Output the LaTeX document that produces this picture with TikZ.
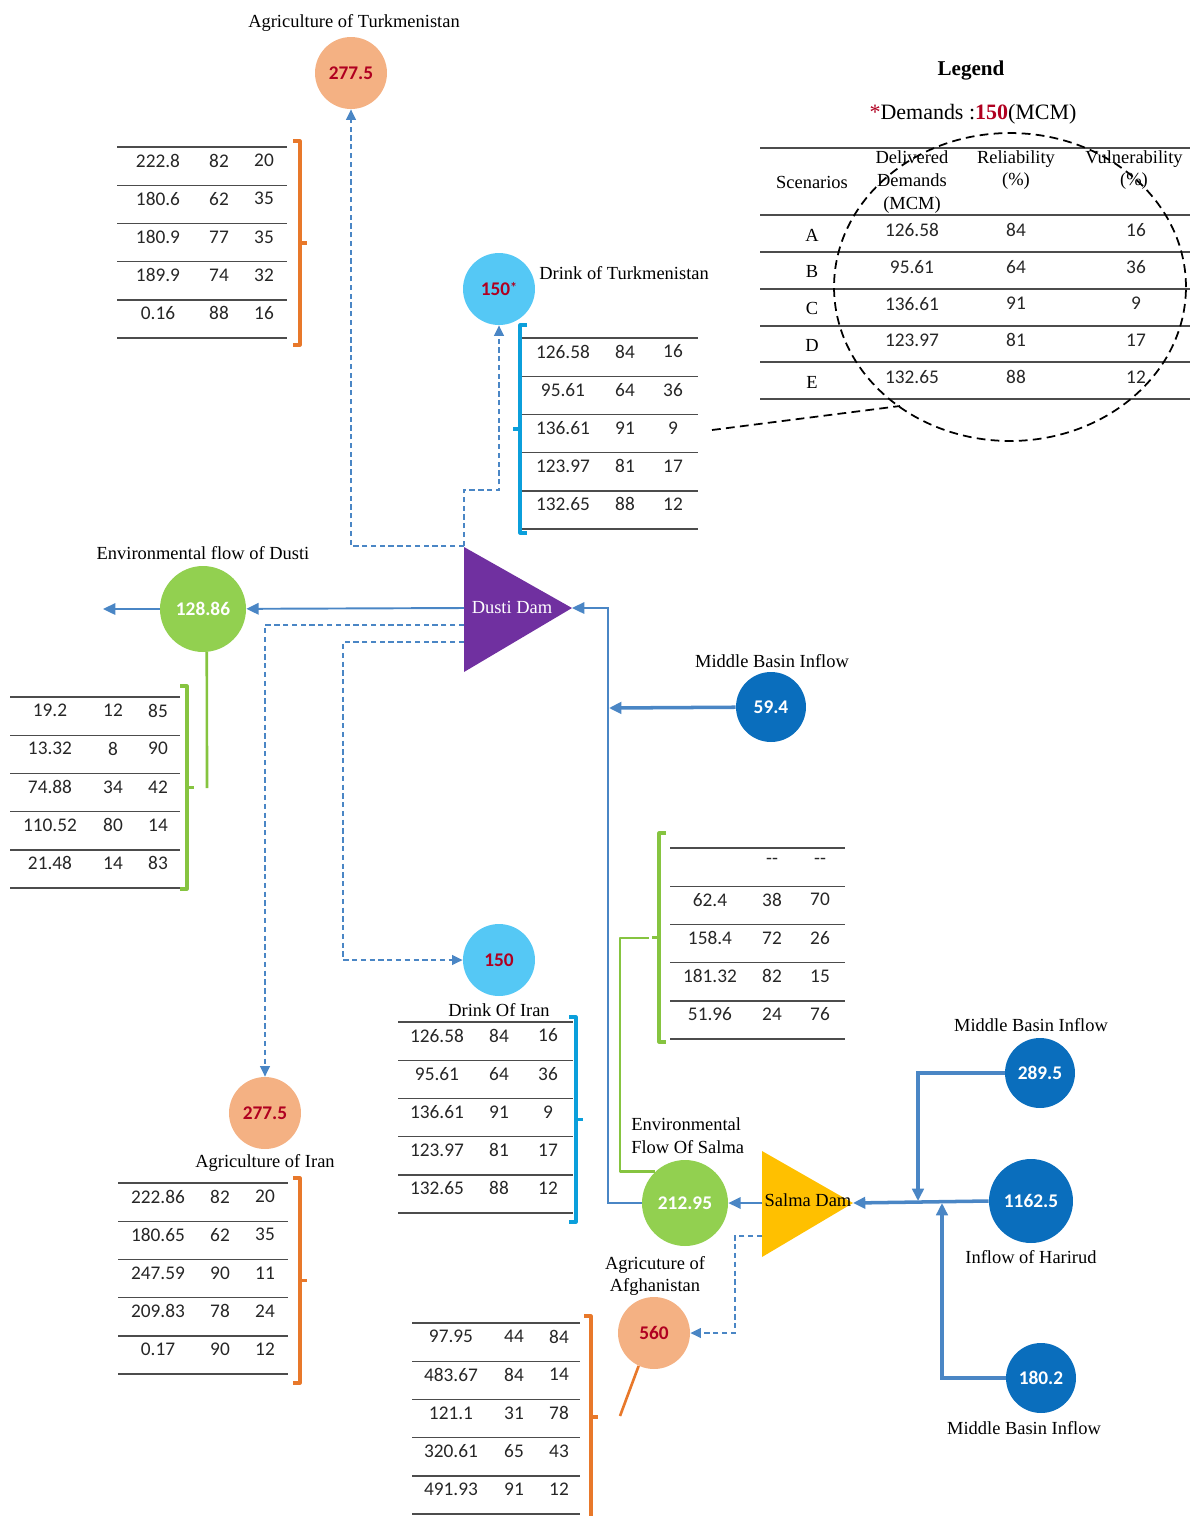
\documentclass[tikz,border=0pt]{standalone}
\usepackage{fontspec}
\setmainfont{Liberation Serif}
\newfontfamily\numfont{Carlito}
\usetikzlibrary{arrows.meta}

\definecolor{flowblue}{HTML}{4A86C5}
\definecolor{agrfill}{HTML}{F4B183}
\definecolor{drinkfill}{HTML}{55C8F5}
\definecolor{envfill}{HTML}{92D050}
\definecolor{inflowfill}{HTML}{0A6EBD}
\definecolor{dampurple}{HTML}{7030A0}
\definecolor{damyellow}{HTML}{FFC000}
\definecolor{brkorange}{HTML}{E8782A}
\definecolor{brkblue}{HTML}{0B9FDB}
\definecolor{brkgreen}{HTML}{86C440}
\definecolor{valred}{HTML}{B00020}

\tikzset{
  site/.style={circle, minimum size=#1, inner sep=0pt, font=\numfont\bfseries\fontsize{11}{13}\selectfont},
  agri/.style={site=1.44cm, fill=agrfill, text=valred},
  drink/.style={site=1.44cm, fill=drinkfill, text=valred},
  env/.style={site=1.72cm, fill=envfill, text=white},
  inflow/.style={site=1.4cm, fill=inflowfill, text=white},
  lbl/.style={font=\fontsize{10.5}{13}\selectfont, inner sep=0pt},
  val/.style={font=\numfont\fontsize{11}{13}\selectfont, text=black!85, inner sep=0pt},
  tline/.style={draw=black!70, line width=0.8pt},
  flow/.style={draw=flowblue, line width=1.1pt, -{Triangle[length=7pt,width=6.5pt]}},
  flowthick/.style={flow, line width=2pt},
  dflow/.style={draw=flowblue, line width=1pt, dash pattern=on 3pt off 2pt, -{Triangle[length=6pt,width=5.5pt]}},
  brk/.style={line width=1.8pt, line join=round}
}

% "]" bracket: colour, x, y top, y bottom
\newcommand{\rbrk}[4]{%
  \draw[brk, #1] (#2-7,#3) -- (#2,#3) -- (#2,#4) -- (#2-7,#4);
  \draw[brk, #1] (#2,{(#3+#4)/2}) -- (#2+7,{(#3+#4)/2});
}
% "[" bracket
\newcommand{\lbrk}[4]{%
  \draw[brk, #1] (#2+7,#3) -- (#2,#3) -- (#2,#4) -- (#2+7,#4);
  \draw[brk, #1] (#2,{(#3+#4)/2}) -- (#2-7,{(#3+#4)/2});
}
% results table: name, x left, x right, y top, column xs, rows
\newcommand{\restable}[8]{%
  \draw[tline] (#2,#4) -- (#3,#4);
  \foreach \va/\vb/\vc [count=\i from 0] in {#8}{
    \node[val] (#1-\i-a) at (#5,#4+\i*38.2+13.5) {\va};
    \node[val] (#1-\i-b) at (#6,#4+\i*38.2+13.5) {\vb};
    \node[val] (#1-\i-c) at (#7,#4+\i*38.2+13.5) {\vc};
    \draw[tline] (#2,#4+\i*38.2+38.2) -- (#3,#4+\i*38.2+38.2);
  }
}

\begin{document}
\begin{tikzpicture}[x=0.02cm, y=-0.02cm]
\useasboundingbox (0,0) rectangle (1190,1516);

% dams
\coordinate (dustiNW) at (464,546);
\coordinate (dustiW) at (464,608);
\coordinate (dustiW1) at (464,625);
\coordinate (dustiW2) at (464,642);
\coordinate (dustiE) at (572,608);
\fill[dampurple] (464,547) -- (dustiE) -- (464,672) -- cycle;
\node[lbl, text=white] (dusti) at (512,607) {Dusti Dam};

\coordinate (salmaW) at (762,1203);
\coordinate (salmaSW) at (762,1236);
\coordinate (salmaE) at (853,1203);
\fill[damyellow] (762,1151) -- (salmaE) -- (762,1257) -- cycle;
\node[lbl] (salma) at (808,1200) {Salma Dam};

% demand and inflow sites
\node[agri] (agrT) at (351,73) {277.5};
\node[drink] (drinkT) at (499,289) {150\raisebox{2pt}{\fontsize{8}{8}\selectfont*}};
\node[env] (envD) at (203,609) {128.86};
\node[inflow] (mbiD) at (771,707) {59.4};
\node[drink] (drinkI) at (499,960) {150};
\node[agri] (agrI) at (265,1113) {277.5};
\node[env] (envS) at (685,1203) {212.95};
\node[agri] (agrA) at (654,1333) {560};
\node[inflow] (mbiS1) at (1040,1073) {289.5};
\node[inflow, minimum size=1.68cm] (hari) at (1031,1201) {1162.5};
\node[inflow] (mbiS2) at (1041,1378) {180.2};

% labels
\node[lbl] (agrTlbl) at (354,23) {Agriculture of Turkmenistan};
\node[lbl, anchor=west] (drinkTlbl) at (539,273) {Drink of Turkmenistan};
\node[lbl] (envDlbl) at (203,553) {Environmental flow of Dusti};
\node[lbl] (mbiDlbl) at (772,661) {Middle Basin Inflow};
\node[lbl] (drinkIlbl) at (499,1010) {Drink Of Iran};
\node[lbl] (agrIlbl) at (265,1163) {Agriculture of Iran};
\node[lbl, align=left, anchor=west] (envSlbl) at (631,1136) {Environmental\\Flow Of Salma};
\node[lbl, align=center] (agrAlbl) at (655,1276) {Agricuture of\\Afghanistan};
\node[lbl] (mbiS1lbl) at (1031,1025) {Middle Basin Inflow};
\node[lbl] (harilbl) at (1031,1257) {Inflow of Harirud};
\node[lbl] (mbiS2lbl) at (1024,1428) {Middle Basin Inflow};

% flows
\coordinate (outD) at (103,609);
\coordinate (bendS) at (608,1203);
\coordinate (jD) at (609,708);
\draw[flow] (dustiW) -- (envD);
\draw[flow] (envD) -- (outD);
\draw[flow] (envS.west) -- (bendS) |- (dustiE);
\draw[flowthick] (mbiD) -- (jD);
\draw[dflow] (dustiNW) -| (agrT.south);
\draw[dflow] (dustiNW) -- (464,490) -| (drinkT.south);
\draw[dflow] (dustiW1) -| (agrI.north);
\draw[dflow] (dustiW2) -- (343,642) |- (drinkI.west);

\coordinate (jS1) at (918,1201);
\coordinate (jS2) at (942,1203);
\draw[flowthick] (hari.west) -- (salmaE);
\draw[flowthick] (mbiS1.west) -| (jS1);
\draw[flowthick] (mbiS2.west) -| (jS2);
\draw[flow] (salmaW) -- (envS.east);
\draw[dflow] (salmaSW) -- (735,1236) |- (agrA.east);

% leaders to the tables
\coordinate (brkS) at (649,938);
\coordinate (brkD) at (207,788);
\coordinate (brkA) at (620,1416);
\draw[brk, brkgreen, line width=1.5pt] (envS.133) -| (620,938) -- (brkS);
\draw[brk, brkgreen, line width=1.5pt] (envD.-85) -- (brkD);
\draw[brk, brkorange, line width=1.5pt] (agrA.245) -- (brkA);

% result tables
\restable{tagrT}{117}{287}{147}{158}{219}{264}{222.8/82/20, 180.6/62/35, 180.9/77/35, 189.9/74/32, 0.16/88/16}
\restable{tdrinkT}{522}{698}{338}{563}{625}{673}{126.58/84/16, 95.61/64/36, 136.61/91/9, 123.97/81/17, 132.65/88/12}
\restable{tenvD}{10}{180}{697}{50}{113}{158}{19.2/12/85, 13.32/8/90, 74.88/34/42, 110.52/80/14, 21.48/14/83}
\restable{tenvS}{670}{845}{848}{710}{772}{820}{{}/-{}-/-{}-, 62.4/38/70, 158.4/72/26, 181.32/82/15, 51.96/24/76}
\restable{tdrinkI}{398}{573}{1022}{437}{499}{548}{126.58/84/16, 95.61/64/36, 136.61/91/9, 123.97/81/17, 132.65/88/12}
\restable{tagrI}{118}{288}{1183}{158}{220}{265}{222.86/82/20, 180.65/62/35, 247.59/90/11, 209.83/78/24, 0.17/90/12}
\restable{tagrA}{412}{580}{1323}{451}{514}{559}{97.95/44/84, 483.67/84/14, 121.1/31/78, 320.61/65/43, 491.93/91/12}

\rbrk{brkorange}{300}{141}{345}
\lbrk{brkblue}{520}{325}{533}
\rbrk{brkgreen}{187}{686}{889}
\lbrk{brkgreen}{659}{833}{1042}
\rbrk{brkblue}{576}{1017}{1222}
\rbrk{brkorange}{300}{1178}{1383}
\rbrk{brkorange}{591}{1316}{1518}

% legend
\node[font=\bfseries\fontsize{12}{14}\selectfont] (lgtitle) at (971,71) {Legend};
\node[font=\fontsize{12.5}{14}\selectfont] (lgdem) at (973,114) {\textcolor{valred}{*}Demands :\textcolor{valred}{\textbf{150}}(MCM)};
\foreach \y in {148,215,252,289,326,362,399}
  \draw[tline] (760,\y) -- (1190,\y);
\node[lbl] (lgscen) at (812,182) {Scenarios};
\node[lbl, align=center] (lgdel) at (912,182) {Delivered\\Demands\\(MCM)};
\node[lbl, align=center] (lgrel) at (1016,170) {Reliability\\(\%)};
\node[lbl, align=center] (lgvul) at (1134,170) {Vulnerability\\(\%)};
\foreach \s/\d/\r/\v [count=\i from 0] in {A/126.58/84/16, B/95.61/64/36, C/136.61/91/9, D/123.97/81/17, E/132.65/88/12}{
  \node[lbl] (lg-\i-s) at (812,215+\i*36.8+20) {\s};
  \node[val] (lg-\i-d) at (912,215+\i*36.8+15) {\d};
  \node[val] (lg-\i-r) at (1016,215+\i*36.8+15) {\r};
  \node[val] (lg-\i-v) at (1136,215+\i*36.8+15) {\v};
}
\draw[line width=1pt, dash pattern=on 5pt off 3pt] (1010,287) ellipse [x radius=3.52cm, y radius=3.08cm];
\coordinate (zoomA) at (712,430);
\coordinate (zoomB) at (900,406);
\draw[line width=1pt, dash pattern=on 5pt off 3pt] (zoomA) -- (zoomB);
\end{tikzpicture}
\end{document}
